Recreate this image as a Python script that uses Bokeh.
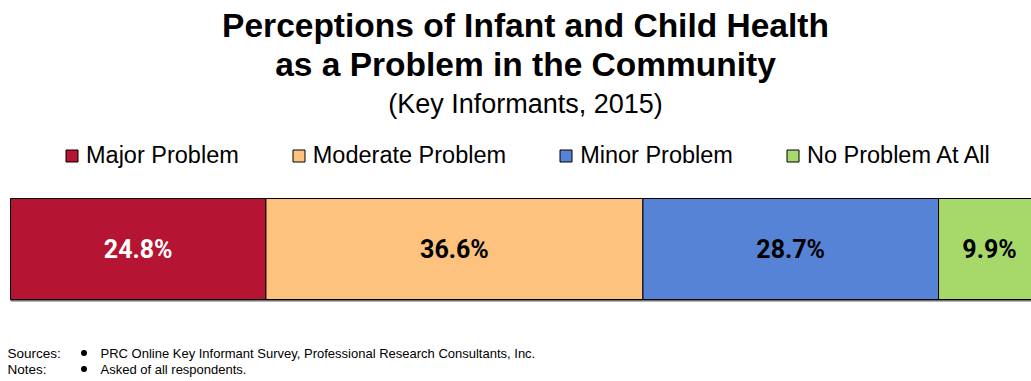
from bokeh.plotting import figure
from bokeh.models import Range1d, Legend, LegendItem, ColumnDataSource
from bokeh.core.properties import value
from bokeh.embed import file_html
from bokeh.resources import INLINE

categories = ["Major Problem", "Moderate Problem", "Minor Problem", "No Problem At All"]
values = [24.8, 36.6, 28.7, 9.9]
colors = ["#B51432", "#FCC27E", "#5783D6", "#A6D86A"]
label_colors = ["white", "black", "black", "black"]
title_lines = ["Perceptions of Infant and Child Health", "as a Problem in the Community"]
subtitle = "(Key Informants, 2015)"
note_heads = ["Sources:", "Notes:"]
note_texts = ["PRC Online Key Informant Survey, Professional Research Consultants, Inc.",
              "Asked of all respondents."]

W, H = 1031, 381
SCALE = 10.30          # px per percent
X0 = -10 / SCALE       # bar starts 10px from the left edge
X1 = X0 + W / SCALE

def dx(px):
    return X0 + px / SCALE

lefts, rights = [], []
acc = 0.0
for v in values:
    lefts.append(acc)
    acc += v
    rights.append(acc)
mids = [(l + r) / 2 for l, r in zip(lefts, rights)]

BAR_Y, BAR_H = 248.5, 101

src = ColumnDataSource(dict(left=lefts, right=rights, mid=mids, y=[BAR_Y] * 4,
                            color=colors, lc=label_colors,
                            text=[f"{v:.1f}%" for v in values], cat=categories))

p = figure(width=W, height=H, x_range=Range1d(X0, X1), y_range=Range1d(H, 0),
           output_backend="svg", toolbar_location=None, min_border=0)
p.axis.visible = False
p.grid.visible = False
p.outline_line_color = None
p.background_fill_color = "white"

# shadow under bar
p.hbar(y=[BAR_Y + 2], left=[0], right=[acc], height=BAR_H, fill_color="#6f6f6f", line_color=None)
r = p.hbar(y="y", left="left", right="right", height=BAR_H, fill_color="color",
           line_color="black", line_width=1, source=src)
p.text(x="mid", y="y", text="text", text_color="lc", text_align="center",
       text_baseline="middle", text_font=value("Roboto"),
       text_font_style="bold", text_font_size="25px", source=src)

cx = dx(525)
p.text(x=[cx, cx], y=[25, 64], text=title_lines, text_align="center", text_baseline="middle",
       text_font=value("Liberation Sans"), text_font_style="bold", text_font_size="33.5px",
       text_color="black")
p.text(x=[cx], y=[103], text=[subtitle], text_align="center", text_baseline="middle",
       text_font=value("Liberation Sans"), text_font_size="27px", text_color="black")

items = [LegendItem(label=c, renderers=[r], index=i) for i, c in enumerate(categories)]
legend = Legend(items=items, orientation="horizontal", location=(64, 212),
                glyph_width=15, glyph_height=15, label_standoff=7, spacing=52,
                padding=0, margin=0, border_line_color=None, background_fill_alpha=0,
                label_text_font="Liberation Sans", label_text_font_size="23.5px",
                label_text_color="black")
p.add_layout(legend, "center")

ys = [352.5, 368.5]
p.text(x=[dx(7)] * 2, y=ys, text=note_heads, text_baseline="middle",
       text_font=value("Liberation Sans"), text_font_size="13.5px", text_color="black")
p.scatter(x=[dx(83.5)] * 2, y=ys, size=6, marker="circle",
          fill_color="black", line_color=None)
p.text(x=[dx(100)] * 2, y=ys, text=note_texts, text_baseline="middle",
       text_font=value("Liberation Sans"), text_font_size="13px", text_color="black")

open("out.html", "w").write(file_html(p, INLINE))
